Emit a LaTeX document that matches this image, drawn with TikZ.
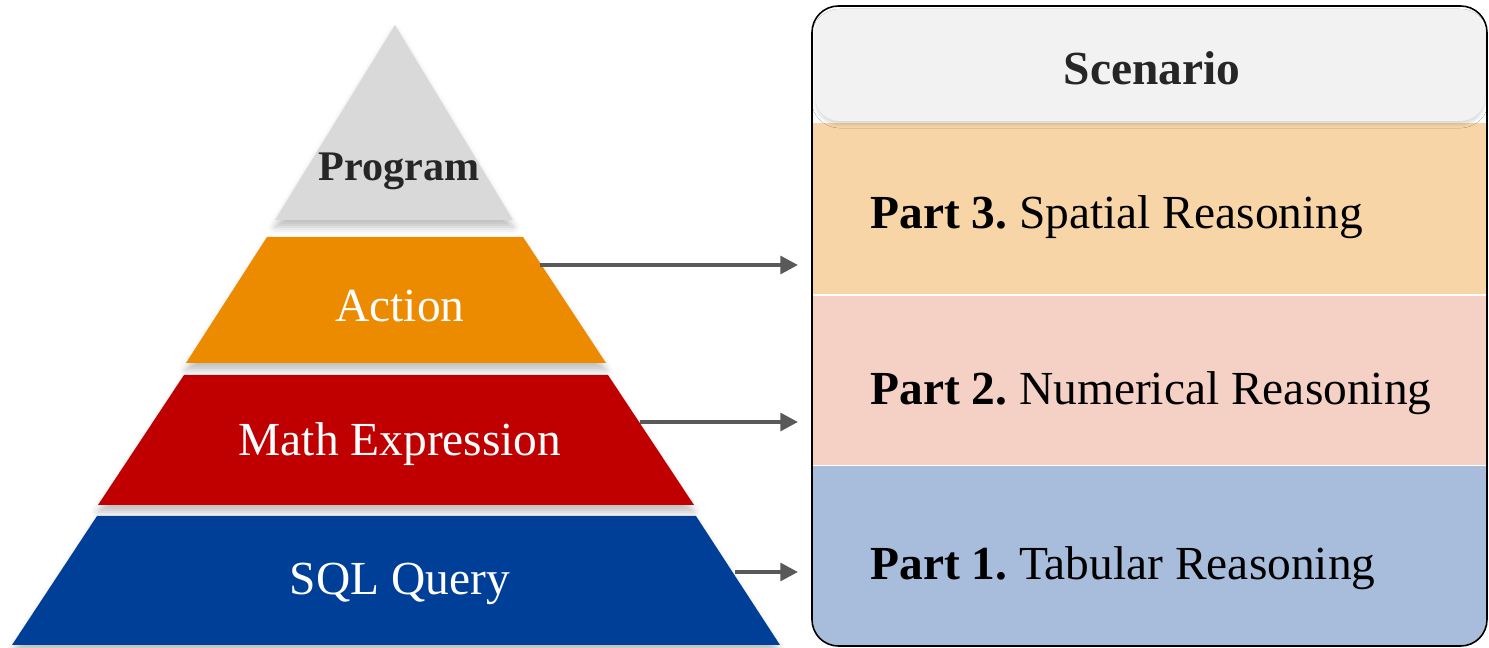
\documentclass[tikz,border=0pt]{standalone}
\usepackage{fontspec}
\setmainfont{Liberation Serif}
\usetikzlibrary{shadows.blur,arrows.meta}
\frenchspacing

\definecolor{progfill}{HTML}{D9D9D9}
\definecolor{actfill}{HTML}{ED8B00}
\definecolor{mathfill}{HTML}{C00000}
\definecolor{sqlfill}{HTML}{003F98}
\definecolor{darktext}{HTML}{262626}
\definecolor{arrowgray}{HTML}{595959}
\definecolor{headfill}{HTML}{F2F2F2}
\definecolor{p3fill}{HTML}{F7D5A7}
\definecolor{p2fill}{HTML}{F5D0C5}
\definecolor{p1fill}{HTML}{A8BDDC}

\tikzset{
  layer/.style={blur shadow={shadow xshift=0pt, shadow yshift=-4pt, shadow blur radius=4pt, shadow opacity=25}},
  layertext/.style={font=\fontsize{27}{32}\selectfont, text=white},
  parttext/.style={font=\fontsize{27}{32}\selectfont, anchor=west, text=black, inner sep=0pt},
  link/.style={draw=arrowgray, line width=2.3pt, -{Triangle[length=10pt,width=10pt]}}
}

\begin{document}
\begin{tikzpicture}[x=0.02cm,y=-0.02cm]
\useasboundingbox (0,0) rectangle (1489,648);

% ---- pyramid layers ----
\fill[sqlfill, layer]  (97,516) -- (696,516) -- (780,645) -- (12,645) -- cycle;
\fill[mathfill, layer] (184,375) -- (608,375) -- (694,505) -- (98,505) -- cycle;
\fill[actfill, layer]  (267,237) -- (523,237) -- (606,363) -- (186,363) -- cycle;
\fill[progfill, layer] (395,25) -- (513,220) -- (275,220) -- cycle;

\node[font=\bfseries\fontsize{24}{28}\selectfont, text=darktext] (prog) at (399,171) {Program};
\node[layertext] (act)  at (400,306) {Action};
\node[layertext] (math) at (400,444) {Math Expression};
\node[layertext] (sql)  at (400,584) {SQL Query};

% ---- scenario panel ----
\begin{scope}
  \clip[rounded corners=15] (812,6) rectangle (1487,646);
  \fill[white] (812,6) rectangle (1487,646);
  \fill[p1fill] (812,466) rectangle (1487,646);
  \fill[p2fill] (812,296) rectangle (1487,465);
  \fill[p3fill] (812,123) rectangle (1487,294);
  \fill[headfill, rounded corners=14, blur shadow={shadow xshift=0pt, shadow yshift=-2pt, shadow blur radius=2pt, shadow opacity=15}]
    (815,9) rectangle (1485,121);
\end{scope}
\draw[black, line width=0.9pt, rounded corners=15] (812,6) rectangle (1487,646);

\node[font=\bfseries\fontsize{27}{32}\selectfont, text=darktext] (head) at (1152,68) {Scenario};
\node[parttext] (p3) at (870,217) {\textbf{Part 3.} Spatial Reasoning};
\node[parttext] (p2) at (870,393) {\textbf{Part 2.} Numerical Reasoning};
\node[parttext] (p1) at (870,568) {\textbf{Part 1.} Tabular Reasoning};

% ---- connectors from layers to panel ----
\coordinate (actR)  at (540,265);
\coordinate (mathR) at (640,422);
\coordinate (sqlR)  at (735,572);
\coordinate (in3) at (798,265);
\coordinate (in2) at (798,422);
\coordinate (in1) at (798,572);
\draw[link] (actR) -- (in3);
\draw[link] (mathR) -- (in2);
\draw[link] (sqlR) -- (in1);
\end{tikzpicture}
\end{document}
